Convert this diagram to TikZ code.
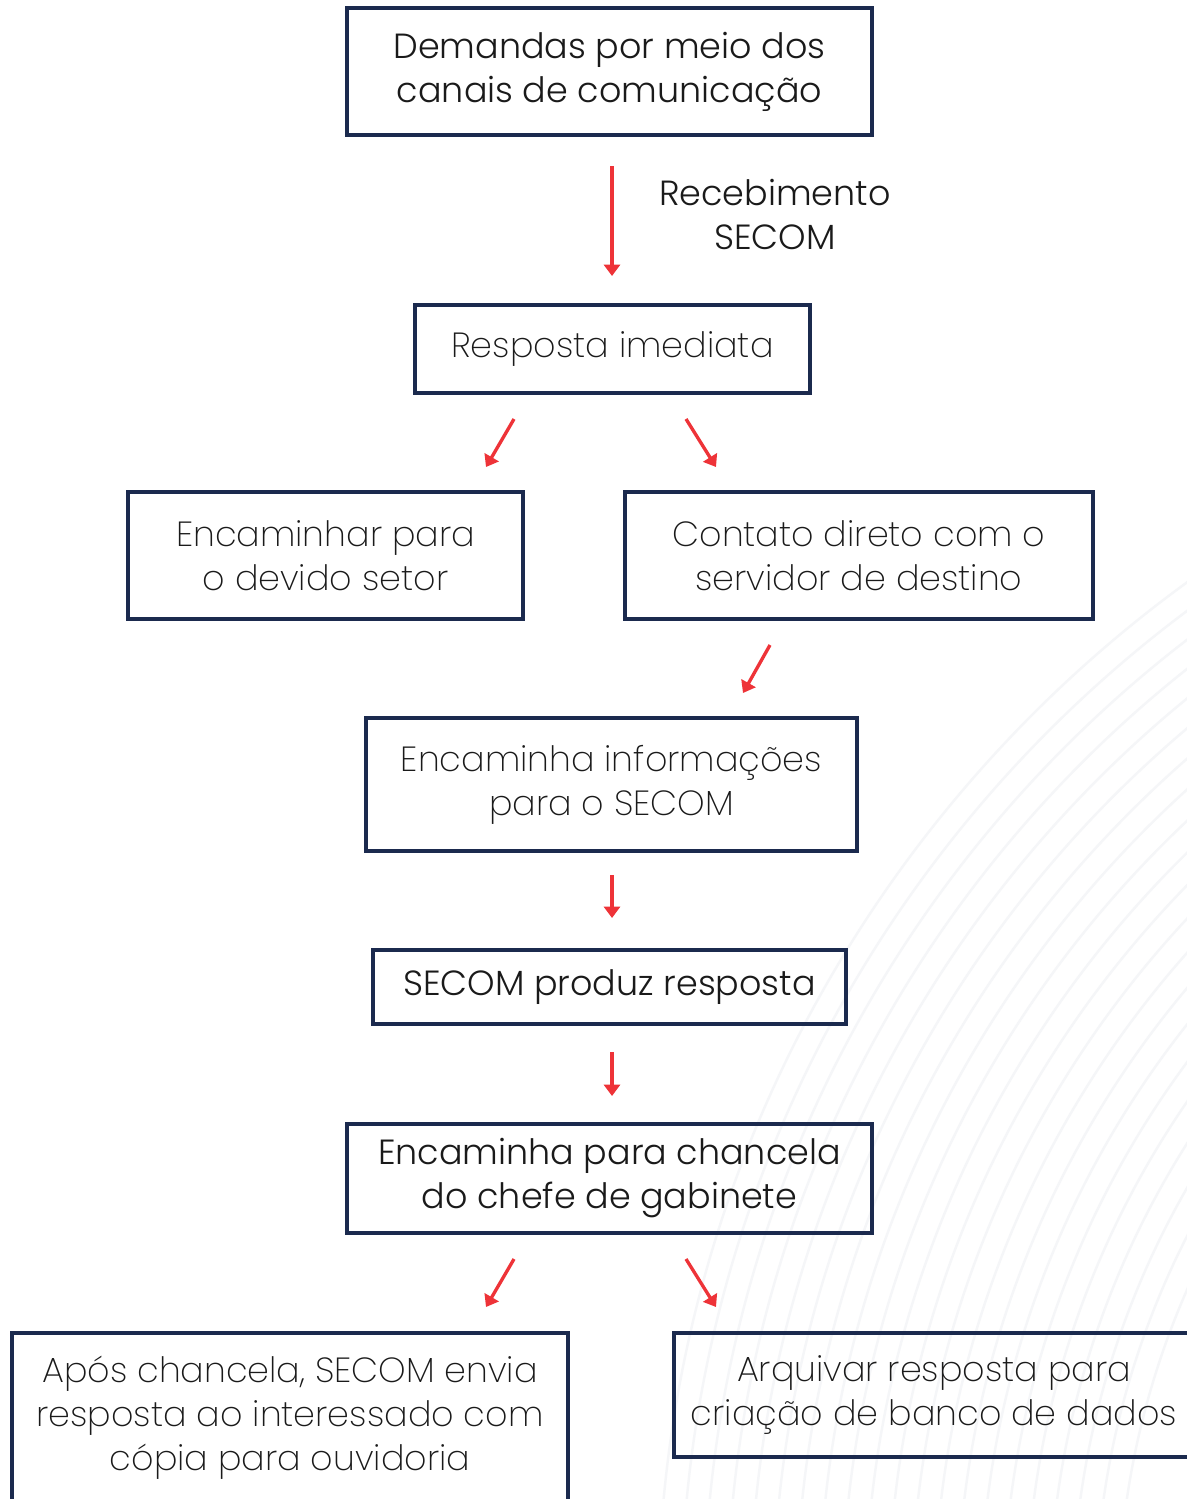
\documentclass[tikz,border=0pt]{standalone}
\usepackage{fontspec}
\setmainfont{Poppins}
\newfontfamily\regf{Poppins Light}
\newfontfamily\lightf{Poppins ExtraLight}
\usetikzlibrary{arrows.meta}
\definecolor{navy}{HTML}{1B2A4E}
\definecolor{arrred}{HTML}{EE3338}
\definecolor{txt}{HTML}{1A1A1A}
\definecolor{bgline}{HTML}{F5F6F8}
\begin{document}
\begin{tikzpicture}[x=0.75pt,y=-0.75pt,
  box/.style={draw=navy, line width=3pt, rectangle, align=center, text=txt, inner sep=0pt},
  reg/.style={font=\regf\fontsize{26.2}{33}\selectfont},
  lite/.style={font=\lightf\fontsize{26.2}{33}\selectfont},
  arr/.style={draw=arrred, line width=2.5pt, -{Triangle[width=12pt,length=8.5pt]}}]
\fill[white] (0,0) rectangle (1187,1499);
\useasboundingbox (0,0) rectangle (1187,1499);
\begin{scope}
  \clip (0,0) rectangle (1187,1499);
  \foreach \r in {822,845,...,1282}
    \draw[bgline, line width=1.8pt] (1940,1620) circle (\r);
\end{scope}

\node[box, reg, minimum width=393.75pt, minimum height=95.25pt] (dem) at (609.5,71.5)
  {Demandas por meio dos\\canais de comunicação};
\node[reg, align=center, text=txt] (rec) at (775,214) {Recebimento\\SECOM};
\node[box, lite, minimum width=296.25pt, minimum height=66pt] (resp) at (612.5,349)
  {Resposta imediata};
\node[box, lite, minimum width=296.25pt, minimum height=95.25pt] (encset) at (325.5,555.5)
  {Encaminhar para\\o devido setor};
\node[box, lite, minimum width=351pt, minimum height=95.25pt] (cont) at (859,555.5)
  {Contato direto com o\\servidor de destino};
\node[box, lite, minimum width=368.25pt, minimum height=99.75pt] (info) at (611.5,784.5)
  {Encaminha informações\\para o SECOM};
\node[box, reg, minimum width=354.75pt, minimum height=55.5pt] (prod) at (609.5,987)
  {SECOM produz resposta};
\node[box, reg, minimum width=393.75pt, minimum height=81.75pt] (chan) at (609.5,1178.5)
  {Encaminha para chancela\\do chefe de gabinete};
\node[box, lite, minimum width=417pt, minimum height=127.5pt] (apos) at (290,1418)
  {Após chancela, SECOM envia\\resposta ao interessado com\\cópia para ouvidoria};
\node[box, lite, minimum width=390pt, minimum height=93pt] (arq) at (934,1395)
  {Arquivar resposta para\\criação de banco de dados};

\coordinate (a1s) at (612,166);  \coordinate (a1e) at (612,276);
\coordinate (a2s) at (514,419);  \coordinate (a2e) at (486,467);
\coordinate (a3s) at (686,419);  \coordinate (a3e) at (716,467);
\coordinate (a4s) at (770,645);  \coordinate (a4e) at (743,693);
\coordinate (a5s) at (612,875);  \coordinate (a5e) at (612,918);
\coordinate (a6s) at (612,1052); \coordinate (a6e) at (612,1096);
\coordinate (a7s) at (514,1259); \coordinate (a7e) at (486,1307);
\coordinate (a8s) at (686,1259); \coordinate (a8e) at (716,1307);
\foreach \i in {1,...,8} \draw[arr] (a\i s) -- (a\i e);
\end{tikzpicture}
\end{document}
